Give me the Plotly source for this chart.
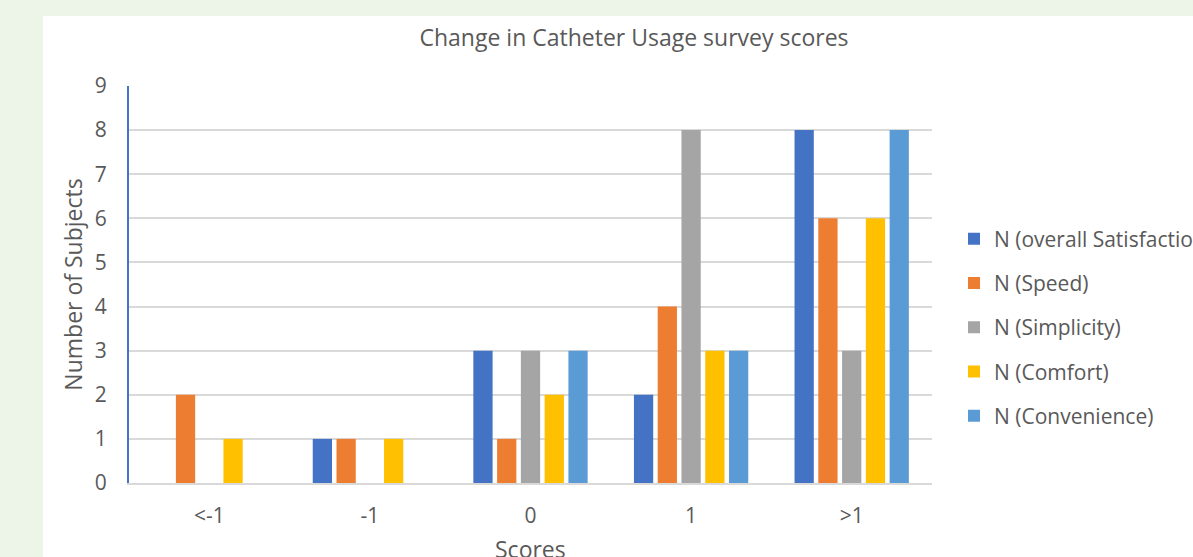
import plotly.graph_objects as go

categories = ["<-1", "-1", "0", "1", ">1"]
series_names = ["N (overall Satisfaction)", "N (Speed)", "N (Simplicity)", "N (Comfort)", "N (Convenience)"]
overall = [0, 1, 3, 2, 8]
speed = [2, 1, 1, 4, 6]
simplicity = [0, 0, 3, 8, 3]
comfort = [1, 1, 2, 3, 6]
convenience = [0, 0, 3, 3, 8]
colors = ["#4472C4", "#ED7D31", "#A5A5A5", "#FFC000", "#5B9BD5"]
x_title = "Scores"

FONT = "'Open Sans', sans-serif"
TXT = "#595959"

fig = go.Figure()
for i, (name, vals) in enumerate(zip(series_names, [overall, speed, simplicity, comfort, convenience])):
    fig.add_trace(go.Bar(x=categories, y=vals, name=name, marker_color=colors[i],
                         marker_line_width=0, legendgroup=str(i)))

W, H = 1193, 557
L, R, T, B = 129, 261, 86, 74
pw = W - L - R
ph = H - T - B

fig.update_layout(
    width=W, height=H,
    margin=dict(l=L, r=R, t=T, b=B, pad=0, autoexpand=False),
    paper_bgcolor="#EDF4E8",
    plot_bgcolor="white",
    barmode="group",
    bargap=0.26,
    bargroupgap=0.19,
    font=dict(family=FONT, color=TXT, size=18),
    title=dict(text="Change in Catheter Usage survey scores", xref="container", x=634 / W, xanchor="center",
               yref="container", y=1 - 38 / H, yanchor="middle", font=dict(size=23, color=TXT, family=FONT)),
    legend=dict(x=(954 - L) / pw, xanchor="left", y=(H - B - 327.5) / ph, yanchor="middle",
                font=dict(size=21, color=TXT, family=FONT), tracegroupgap=14,
                bgcolor="rgba(0,0,0,0)", traceorder="grouped", borderwidth=0),
    showlegend=True,
)
fig.add_shape(type="rect", xref="paper", yref="paper",
              x0=(43 - L) / pw, x1=(W + 10 - L) / pw, y0=-(B + 10) / ph, y1=1 + (T - 16) / ph,
              fillcolor="white", line_width=0, layer="below")
fig.add_annotation(text=x_title, xref="paper", yref="paper", x=0.5, y=-(549 - (H - B)) / ph,
                   xanchor="center", yanchor="middle", showarrow=False,
                   font=dict(size=23, color=TXT, family=FONT))

fig.update_yaxes(range=[0, 9], dtick=1, showgrid=True, gridcolor="#D9D9D9", gridwidth=2,
                 showline=True, linecolor="#4472C4", linewidth=2, zeroline=False,
                 ticks="outside", ticklen=16, tickcolor="rgba(0,0,0,0)", automargin=False,
                 tickfont=dict(size=21, color=TXT),
                 title=dict(text="Number of Subjects", font=dict(size=23, color=TXT), standoff=6))
fig.update_xaxes(showline=True, linecolor="#D9D9D9", linewidth=2, showgrid=False,
                 ticks="outside", ticklen=13, tickcolor="rgba(0,0,0,0)", automargin=False,
                 tickfont=dict(size=21, color=TXT))

fig.write_html("out.html", config={"displayModeBar": False},
               post_script="document.body.style.margin='0';document.body.style.background='#EDF4E8';")
